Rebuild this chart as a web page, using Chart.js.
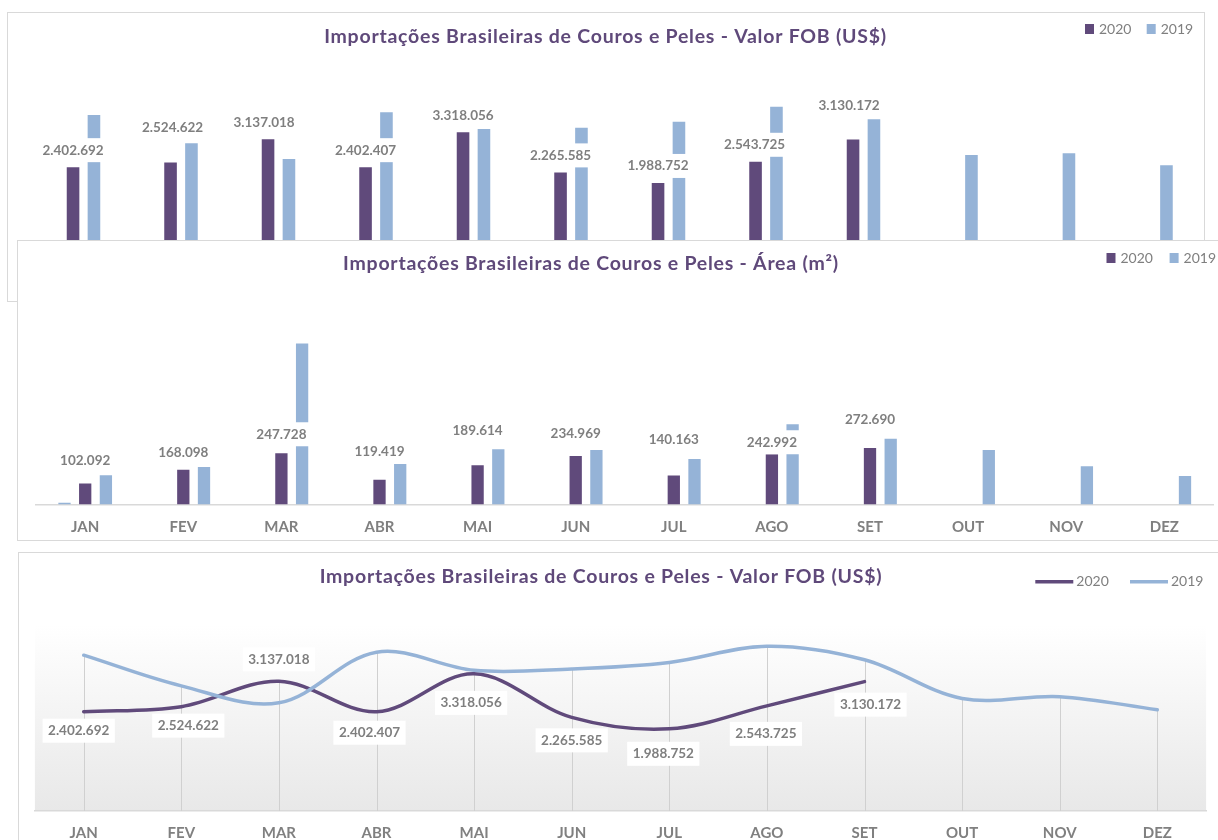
<!DOCTYPE html>
<html>
<head>
<meta charset="utf-8">
<title>Importações Brasileiras de Couros e Peles</title>
<script src="https://cdn.jsdelivr.net/npm/chart.js@4.4.1/dist/chart.umd.min.js"></script>
<style>
  body { margin: 0; background: #fff; width: 1218px; height: 840px; overflow: hidden; position: relative; font-family: Lato, sans-serif; }
  .box { position: absolute; box-sizing: border-box; border: 1px solid #d9d9d9; background: #fff; }
  canvas { position: absolute; }
</style>
</head>
<body>
<div class="box" style="left:7px;top:12px;width:1198px;height:290px;z-index:1"></div>
<canvas id="fob" style="left:7px;top:12px;z-index:2" width="1205" height="290"></canvas>
<div class="box" style="left:17px;top:240px;width:1212px;height:301px;z-index:3"></div>
<canvas id="area" style="left:17px;top:240px;z-index:4" width="1210" height="313"></canvas>
<div class="box" style="left:18px;top:552px;width:1212px;height:300px;z-index:5"></div>
<canvas id="linha" style="left:18px;top:552px;z-index:6" width="1209" height="304"></canvas>

<script>
// months and values
const months = ['JAN', 'FEV', 'MAR', 'ABR', 'MAI', 'JUN', 'JUL', 'AGO', 'SET', 'OUT', 'NOV', 'DEZ'];
const fob2020 = [2402692, 2524622, 3137018, 2402407, 3318056, 2265585, 1988752, 2543725, 3130172, null, null, null];
const fob2019 = [3770000, 3028000, 2617000, 3841000, 3403000, 3437000, 3595000, 3988000, 3658000, 2722000, 2766000, 2452000];
const area2020 = [102092, 168098, 247728, 119419, 189614, 234969, 140163, 242992, 272690, null, null, null];
const area2019 = [141000, 181000, 779000, 196000, 267000, 263000, 220000, 388000, 318000, 263000, 185000, 138000];
const areaOther = [8000, null, null, null, null, null, null, null, null, null, null, null];

// label placement (pixels), as Excel left them
const fobBarLift = [17, 35, 17, 17, 17, 17, 17, 17, 34];
const fobBarShift = [0, 2, -4, 0, 0, 0, 0, -1, -4];
const areaBarLift = [23, 17, 19, 28, 35, 22, 36, 12, 28];
const fobLineDx = [-5, 7, 0, -7, -3, 0, -6, -1, 6];
const fobLineDy = [19, 19, -22, 21, 29, 23, 25, 28, 23];

const DARK = '#604A7B';
const LIGHT = '#95B3D7';
const TITLE = '#5F497A';
const GREY = '#7F7F7F';

function fmt(v) {
  return String(v).replace(/\B(?=(\d{3})+(?!\d))/g, '.');
}

// title + legend drawn where Excel had them
const header = {
  id: 'header',
  afterDraw(chart, args, o) {
    const ctx = chart.ctx;
    ctx.save();
    ctx.font = 'bold 19.5px Lato';
    ctx.letterSpacing = '0.75px';
    ctx.fillStyle = TITLE;
    ctx.textAlign = 'center';
    ctx.textBaseline = 'middle';
    ctx.fillText(o.text, o.x, o.y);
    ctx.letterSpacing = '0px';
    ctx.font = '14px Lato';
    ctx.textAlign = 'left';
    let k = 0;
    chart.data.datasets.forEach(ds => {
      if (!ds.label) return;
      const x = o.keys[k++];
      if (o.line) {
        ctx.strokeStyle = ds.borderColor;
        ctx.lineWidth = 3.5;
        ctx.beginPath();
        ctx.moveTo(x, o.ky);
        ctx.lineTo(x + 38, o.ky);
        ctx.stroke();
        ctx.fillStyle = GREY;
        ctx.fillText(ds.label, x + 41, o.ky);
      } else {
        ctx.fillStyle = ds.backgroundColor;
        ctx.fillRect(x, o.ky - 5, 9, 10);
        ctx.fillStyle = GREY;
        ctx.fillText(ds.label, x + 14, o.ky);
      }
    });
    ctx.restore();
  }
};

// data labels with white boxes
const boxLabels = {
  id: 'boxLabels',
  afterDatasetsDraw(chart, args, o) {
    const ctx = chart.ctx;
    const meta = chart.getDatasetMeta(o.dataset);
    const data = chart.data.datasets[o.dataset].data;
    ctx.save();
    ctx.font = 'bold 13.5px Lato';
    ctx.textAlign = 'center';
    ctx.textBaseline = 'middle';
    meta.data.forEach((el, i) => {
      const v = data[i];
      if (v == null) return;
      const cx = el.x + (o.dx ? o.dx[i] : 0);
      const cy = o.lift ? el.y - o.lift[i] : el.y + o.dy[i];
      const txt = fmt(v);
      const w = ctx.measureText(txt).width + 11;
      const h = 24;
      ctx.fillStyle = '#fff';
      ctx.fillRect(cx - w / 2, cy - h / 2, w, h);
      ctx.fillStyle = GREY;
      ctx.fillText(txt, cx, cy);
    });
    ctx.restore();
  }
};

// grey plot fill and drop lines of the line chart
const plotDecor = {
  id: 'plotDecor',
  beforeDraw(chart, args, o) {
    if (!o.on) return;
    const {ctx, chartArea: a} = chart;
    const g = ctx.createLinearGradient(0, a.top, 0, a.bottom);
    g.addColorStop(0, '#ffffff');
    g.addColorStop(1, '#e8e8e8');
    ctx.save();
    ctx.fillStyle = g;
    ctx.fillRect(a.left, a.top, a.right - a.left, a.bottom - a.top);
    ctx.restore();
  },
  beforeDatasetsDraw(chart, args, o) {
    if (!o.on) return;
    const {ctx, chartArea: a, scales} = chart;
    ctx.save();
    ctx.strokeStyle = '#d0d0d0';
    ctx.lineWidth = 1;
    chart.data.labels.forEach((m, i) => {
      const vals = chart.data.datasets.map(d => d.data[i]).filter(v => v != null);
      if (!vals.length) return;
      const x = Math.round(scales.x.getPixelForValue(i)) + 0.5;
      ctx.beginPath();
      ctx.moveTo(x, scales.y.getPixelForValue(Math.max(...vals)));
      ctx.lineTo(x, a.bottom);
      ctx.stroke();
    });
    ctx.restore();
  }
};

const xTicks = {
  color: '#808080',
  font: { family: 'Lato', size: 15, weight: 'bold' },
  padding: 13.5,
  maxRotation: 0,
  autoSkip: false
};

function build() {
  Chart.defaults.font.family = 'Lato';

  new Chart(document.getElementById('fob'), {
    type: 'bar',
    data: {
      labels: months,
      datasets: [
        { label: '2020', data: fob2020, backgroundColor: DARK },
        { label: '2019', data: fob2019, backgroundColor: LIGHT }
      ]
    },
    options: {
      responsive: false,
      animation: false,
      categoryPercentage: 0.4287,
      barPercentage: 0.603,
      layout: { padding: { left: 27.75, right: 7.25, top: 56.1, bottom: 43.2 } },
      scales: {
        x: { display: false },
        y: { display: false, min: 0, max: 5000000 }
      },
      plugins: {
        legend: { display: false },
        tooltip: { enabled: false },
        header: { text: 'Importações Brasileiras de Couros e Peles - Valor FOB (US$)', x: 598.5, y: 25, keys: [1078, 1139.7], ky: 17 },
        boxLabels: { dataset: 0, lift: fobBarLift, dx: fobBarShift },
        plotDecor: { on: false }
      }
    },
    plugins: [header, boxLabels, plotDecor]
  });

  new Chart(document.getElementById('area'), {
    type: 'bar',
    data: {
      labels: months,
      datasets: [
        { label: '', data: areaOther, backgroundColor: LIGHT },
        { label: '2020', data: area2020, backgroundColor: DARK },
        { label: '2019', data: area2019, backgroundColor: LIGHT }
      ]
    },
    options: {
      responsive: false,
      animation: false,
      categoryPercentage: 0.633,
      barPercentage: 0.594,
      layout: { padding: { left: 19.15, right: 13.65, top: 57.7, bottom: 3.5 } },
      scales: {
        x: {
          grid: { display: false, drawTicks: false },
          border: { display: true, color: '#d9d9d9', width: 1.5 },
          ticks: xTicks
        },
        y: { display: false, min: 0, max: 1000000 }
      },
      plugins: {
        legend: { display: false },
        tooltip: { enabled: false },
        header: { text: 'Importações Brasileiras de Couros e Peles - Área (m²)', x: 574, y: 24, keys: [1089.5, 1152.6], ky: 18 },
        boxLabels: { dataset: 1, lift: areaBarLift },
        plotDecor: { on: false }
      }
    },
    plugins: [header, boxLabels, plotDecor]
  });

  new Chart(document.getElementById('linha'), {
    type: 'line',
    data: {
      labels: months,
      datasets: [
        { label: '2020', data: fob2020, borderColor: DARK, backgroundColor: DARK, order: 1 },
        { label: '2019', data: fob2019, borderColor: LIGHT, backgroundColor: LIGHT, order: 0 }
      ]
    },
    options: {
      responsive: false,
      animation: false,
      elements: {
        line: { borderWidth: 3.5, tension: 0.35, borderCapStyle: 'round' },
        point: { radius: 0, hoverRadius: 0 }
      },
      layout: { padding: { left: 16.9, right: 20.9, top: 73, bottom: 0 } },
      scales: {
        x: {
          offset: true,
          grid: { display: false, drawTicks: false },
          border: { display: true, color: '#d9d9d9', width: 1.5 },
          ticks: xTicks
        },
        y: { display: false, min: 0, max: 4500000 }
      },
      plugins: {
        legend: { display: false },
        tooltip: { enabled: false },
        header: { text: 'Importações Brasileiras de Couros e Peles - Valor FOB (US$)', x: 583, y: 25, keys: [1017.3, 1112], ky: 29.7, line: true },
        boxLabels: { dataset: 0, dx: fobLineDx, dy: fobLineDy },
        plotDecor: { on: true }
      }
    },
    plugins: [header, boxLabels, plotDecor]
  });
}

if (document.fonts && document.fonts.load) {
  Promise.all([
    document.fonts.load('bold 19px Lato'),
    document.fonts.load('14px Lato')
  ]).then(build, build);
} else {
  build();
}
</script>
</body>
</html>
